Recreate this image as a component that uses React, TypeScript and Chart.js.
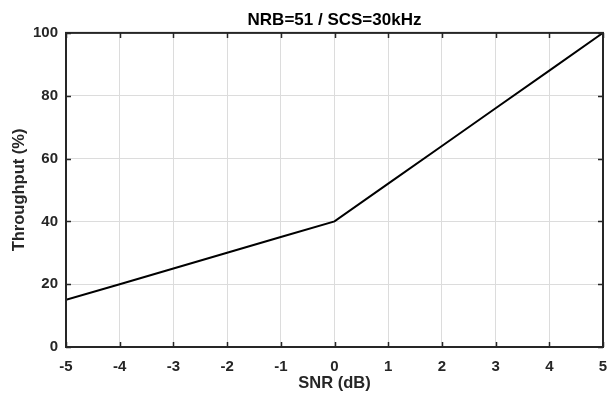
import React, { useEffect, useRef } from "react";
import { Chart, registerables } from "chart.js";

Chart.register(...registerables);

const snr: number[] = [-5, -4, -3, -2, -1, 0, 1, 2, 3, 4, 5];
const throughput: number[] = [15, 20, 25, 30, 35, 40, 52, 64, 76, 88, 100];
const titleText = "NRB=51 / SCS=30kHz";
const xLabel = "SNR (dB)";
const yLabel = "Throughput (%)";

const AXIS = "#262626";
const FONT = "'Liberation Sans', Arial, sans-serif";

const boxPlugin = {
  id: "matlabBox",
  afterDatasetsDraw(chart: any) {
    const { ctx, chartArea, scales } = chart;
    const { left, right, top, bottom } = chartArea;
    ctx.save();
    ctx.strokeStyle = AXIS;
    ctx.lineWidth = 1.5;
    const tl = 5;
    ctx.beginPath();
    scales.x.ticks.forEach((t: any) => {
      const px = Math.round(scales.x.getPixelForValue(t.value)) + 0.5;
      ctx.moveTo(px, bottom);
      ctx.lineTo(px, bottom - tl);
      ctx.moveTo(px, top);
      ctx.lineTo(px, top + tl);
    });
    scales.y.ticks.forEach((t: any) => {
      const py = Math.round(scales.y.getPixelForValue(t.value)) + 0.5;
      ctx.moveTo(left, py);
      ctx.lineTo(left + tl, py);
      ctx.moveTo(right, py);
      ctx.lineTo(right - tl, py);
    });
    ctx.stroke();
    ctx.lineWidth = 2;
    ctx.strokeRect(left, top, right - left, bottom - top);
    ctx.restore();
  },
};

export default function App() {
  const ref = useRef<HTMLCanvasElement | null>(null);
  useEffect(() => {
    document.body.style.margin = "0";
    const canvas = ref.current;
    if (!canvas) return;
    const chart = new Chart(canvas, {
      type: "line",
      data: {
        datasets: [
          {
            data: snr.map((x, i) => ({ x, y: throughput[i] })),
            borderColor: "#000000",
            borderWidth: 2,
            pointRadius: 0,
            tension: 0,
          },
        ],
      },
      options: {
        responsive: false,
        animation: false,
        layout: { padding: { left: 0, right: 6, top: 0, bottom: 0 } },
        plugins: {
          legend: { display: false },
          tooltip: { enabled: false },
          title: {
            display: true,
            fullSize: false,
            text: titleText,
            color: "#000000",
            font: { family: FONT, size: 17, weight: "bold" },
            padding: { top: 10.5, bottom: 2 },
          },
        },
        scales: {
          x: {
            type: "linear",
            min: -5,
            max: 5,
            afterFit: (s: any) => {
              s.height = 47;
              s.paddingLeft = 0;
              s.paddingRight = 0;
            },
            ticks: {
              stepSize: 1,
              color: AXIS,
              padding: 11,
              font: { family: FONT, size: 15, weight: "bold" },
              maxRotation: 0,
            },
            grid: { color: "#dcdcdc", lineWidth: 1, drawTicks: false },
            border: { display: false },
            title: {
              display: true,
              text: xLabel,
              color: AXIS,
              font: { family: FONT, size: 16.5, weight: "bold" },
              padding: { top: 0, bottom: 1 },
            },
          },
          y: {
            type: "linear",
            min: 0,
            max: 100,
            afterFit: (s: any) => {
              s.width = 66;
              s.paddingTop = 0;
              s.paddingBottom = 0;
            },
            ticks: {
              stepSize: 20,
              color: AXIS,
              padding: 8,
              font: { family: FONT, size: 15, weight: "bold" },
            },
            grid: { color: "#dcdcdc", lineWidth: 1, drawTicks: false },
            border: { display: false },
            title: {
              display: true,
              text: yLabel,
              color: AXIS,
              font: { family: FONT, size: 16.5, weight: "bold" },
              padding: { top: 10, bottom: 0 },
            },
          },
        },
      },
      plugins: [boxPlugin],
    });
    return () => chart.destroy();
  }, []);
  return <canvas ref={ref} width={609} height={394} style={{ display: "block" }} />;
}
